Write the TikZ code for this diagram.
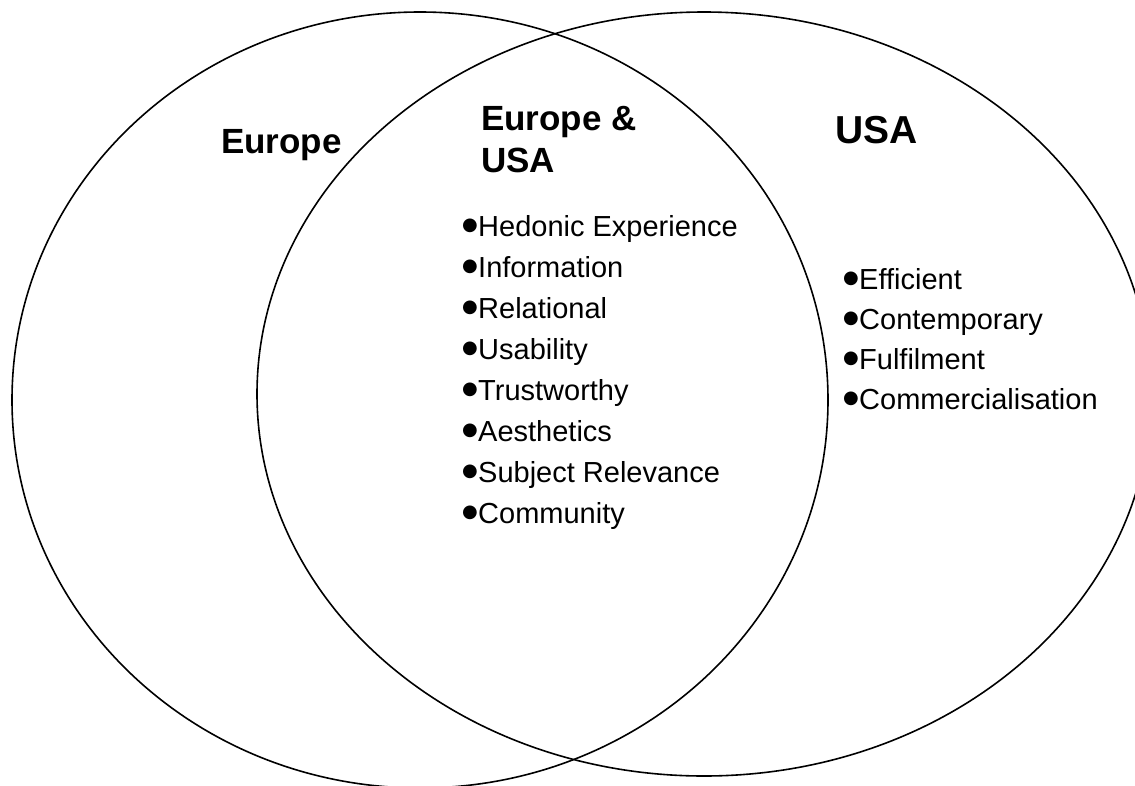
\documentclass[tikz,border=0pt]{standalone}
\usepackage{fontspec}
\setmainfont{Liberation Sans}
\newfontfamily\symfont{DejaVu Sans}
\newcommand{\bul}{\makebox[16pt][l]{\raisebox{6pt}{\symfont\fontsize{18}{18}\selectfont ●}}}
\tikzset{
  set/.style={line width=1.6pt},
  head/.style={font=\fontsize{35}{42}\selectfont\bfseries, inner sep=0pt, anchor=base west, align=left},
  item/.style={font=\fontsize{29}{35}\selectfont, inner sep=0pt, anchor=base west}
}
\begin{document}
\begin{tikzpicture}[x=1pt, y=-1pt]
    % Marco
    \useasboundingbox (0,0) rectangle (1135,785);
    \clip (0,0) rectangle (1135,785);

    % Conjuntos
    \draw[set] (420,400) ellipse [x radius=408pt, y radius=388pt];
    \draw[set] (704,394) ellipse [x radius=447pt, y radius=382pt];

    % Titulos
    \node[head] (eu) at (221,153) {Europe};
    \node[head] (both) at (481,130) {Europe \&};
    \node[head] (both2) at (481,172) {USA};
    \node[head, font=\fontsize{39}{46}\selectfont\bfseries] (us) at (835,143) {USA};

    % Lista comun
    \foreach \t [count=\i] in {Hedonic Experience, Information, Relational,
        Usability, Trustworthy, Aesthetics, Subject Relevance, Community}
      \node[item] (c\i) at (462,{236+41*(\i-1)}) {\bul\t};

    % Lista USA
    \foreach \t [count=\i] in {Efficient, Contemporary, Fulfilment, Commercialisation}
      \node[item] (u\i) at (843,{289+40*(\i-1)}) {\bul\t};
\end{tikzpicture}
\end{document}
